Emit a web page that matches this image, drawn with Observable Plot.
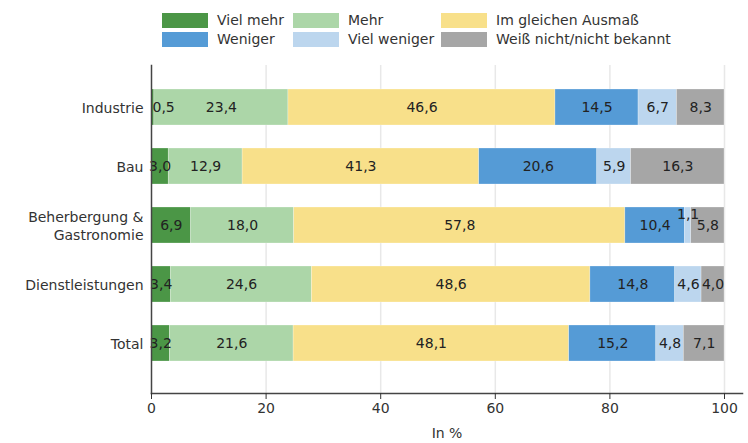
<!DOCTYPE html>
<html><head><meta charset="utf-8">
<script src="https://cdn.jsdelivr.net/npm/d3@7"></script>
<script src="https://cdn.jsdelivr.net/npm/@observablehq/plot@0.6"></script>
<style>
body{margin:0;background:#fff;font-family:"DejaVu Sans",sans-serif;}
#legend{position:relative;height:55px;width:748px;}
.it{position:absolute;display:flex;align-items:center;font-size:14px;color:#333;height:16px;}
.sw{width:46px;height:15px;margin-right:9px;}
</style></head><body>
<div id="legend"></div>
<div id="chart"></div>
<script>
const categories = ["Industrie","Bau","Beherbergung & Gastronomie","Dienstleistungen","Total"];
const seriesNames = ["Viel mehr","Mehr","Im gleichen Ausmaß","Weniger","Viel weniger","Weiß nicht/nicht bekannt"];
const colors = ["#4b9646","#acd6a8","#f8e08a","#559bd6","#bcd6ee","#a6a6a6"];
const vielMehr    = [0.5, 3.0, 6.9, 3.4, 3.2];
const mehr        = [23.4, 12.9, 18.0, 24.6, 21.6];
const gleich      = [46.6, 41.3, 57.8, 48.6, 48.1];
const weniger     = [14.5, 20.6, 10.4, 14.8, 15.2];
const vielWeniger = [6.7, 5.9, 1.1, 4.6, 4.8];
const weissNicht  = [8.3, 16.3, 5.8, 4.0, 7.1];
const xTicks = [0, 20, 40, 60, 80, 100];

const seriesValues = [vielMehr, mehr, gleich, weniger, vielWeniger, weissNicht];
const rows = [];
categories.forEach((c, i) => {
  let acc = 0;
  seriesValues.forEach((vals, s) => {
    const v = vals[i];
    rows.push({cat: c, series: seriesNames[s], value: v, x1: acc, x2: acc + v, mid: acc + v / 2});
    acc += v;
  });
});
const fmt = v => v.toFixed(1).replace(".", ",");

// legend
const legendPos = [[162,12],[293,12],[441,12],[162,31],[293,31],[441,31]];
const lg = document.getElementById("legend");
seriesNames.forEach((n, i) => {
  const d = document.createElement("div");
  d.className = "it";
  d.style.left = legendPos[i][0] + "px";
  d.style.top = legendPos[i][1] + "px";
  d.innerHTML = `<div class="sw" style="background:${colors[i]}"></div><span>${n}</span>`;
  lg.appendChild(d);
});

const normal = rows.filter(r => r.value >= 1.5);
const small = rows.filter(r => r.value < 1);
const tiny = rows.filter(r => r.value >= 1 && r.value < 1.5);

const chart = Plot.plot({
  width: 748, height: 388,
  marginLeft: 151, marginRight: 6, marginTop: 10, marginBottom: 50,
  style: {fontFamily: "DejaVu Sans, sans-serif", fontSize: "14px", color: "#333", background: "#fff"},
  x: {domain: [0, 100], insetRight: 18},
  y: {domain: categories, padding: 0.39, insetBottom: 9},
  color: {domain: seriesNames, range: colors},
  marks: [
    Plot.gridX(xTicks.filter(t => t > 0), {stroke: "#e8e8e8", strokeOpacity: 1, strokeWidth: 1.5}),
    Plot.barX(rows, {x1: "x1", x2: "x2", y: "cat", fill: "series", stroke: "#fff", strokeOpacity: 0.5, strokeWidth: 0.5}),
    Plot.text(normal, {x: "mid", y: "cat", text: d => fmt(d.value), fill: "#222", fontSize: 14}),
    Plot.text(small, {x: "x1", y: "cat", text: d => fmt(d.value), fill: "#222", fontSize: 14, textAnchor: "start", dx: 1}),
    Plot.text(tiny, {x: "mid", y: "cat", text: d => fmt(d.value), fill: "#222", fontSize: 14, dy: -11}),
    Plot.frame({anchor: "left", stroke: "#444", strokeWidth: 1.5}),
    Plot.frame({anchor: "bottom", stroke: "#444", strokeWidth: 1.5}),
    Plot.axisX({ticks: xTicks, tickSize: 6, tickPadding: 4, label: "In %", labelAnchor: "center", labelArrow: false, labelOffset: 44, fontSize: 14}),
    Plot.axisY({tickSize: 0, tickPadding: 8, label: null, lineHeight: 1.25, fontSize: 14,
      tickFormat: d => d === "Beherbergung & Gastronomie" ? "Beherbergung &\nGastronomie" : d})
  ]
});
document.getElementById("chart").appendChild(chart);
</script>
</body></html>
